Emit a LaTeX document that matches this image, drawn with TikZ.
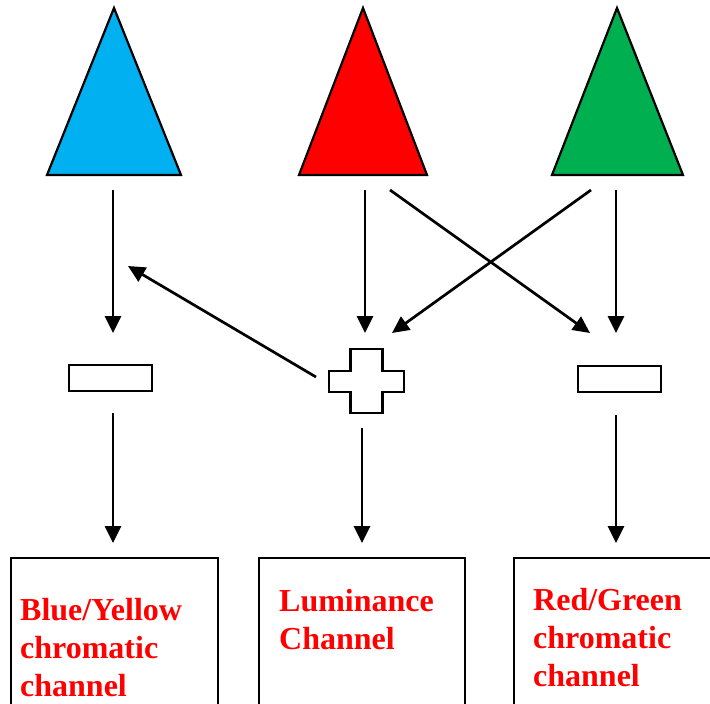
\documentclass[tikz,border=0pt]{standalone}
\usepackage{fontspec}
\setmainfont{Liberation Serif}
\usetikzlibrary{arrows.meta}
\definecolor{coneblue}{HTML}{00B0F0}
\definecolor{conered}{HTML}{FF0000}
\definecolor{conegreen}{HTML}{00B050}
\tikzset{
  cone/.style={draw=black, line width=2.2pt, line join=miter},
  flow/.style={-{Triangle[length=17pt,width=16pt]}, line width=2.7pt},
  opbox/.style={draw, line width=2.2pt, minimum width=83pt, minimum height=26pt, inner sep=0pt},
  chanbox/.style={draw, line width=2.2pt, anchor=north west, minimum height=200pt, inner sep=0pt},
  chantext/.style={anchor=north west, inner sep=0pt, align=left, text=red,
    font=\bfseries\fontsize{32}{38}\selectfont}
}

\begin{document}
\begin{tikzpicture}[x=1pt,y=-1pt]
\useasboundingbox (0,0) rectangle (710,704);
\clip (0,0) rectangle (710,704);

% cones
\filldraw[cone, fill=coneblue] (47,175) -- (114,8) -- (181,175) -- cycle;
\filldraw[cone, fill=conered] (299,175) -- (363,8) -- (427,175) -- cycle;
\filldraw[cone, fill=conegreen] (552,175) -- (617,8) -- (683,175) -- cycle;

% opponent stages
\node[opbox] (minusby) at (110.5,378) {};
\node[opbox] (minusrg) at (619.5,379) {};
\node[minimum width=75pt, minimum height=64pt, inner sep=0pt] (sum) at (366.5,381) {};
\begin{scope}[shift={(sum.center)}]
\draw[line width=2.2pt] (-16,-32) -- (16,-32) -- (16,-10) -- (37.5,-10) -- (37.5,11)
  -- (16,11) -- (16,32) -- (-16,32) -- (-16,11) -- (-37.5,11) -- (-37.5,-10)
  -- (-16,-10) -- cycle;
\end{scope}

% channels
\node[chanbox, minimum width=207pt] (bybox) at (10,557) {};
\node[chanbox, minimum width=206pt] (lumbox) at (258,557) {};
\node[chanbox, minimum width=220pt] (rgbox) at (513,557) {};
\node[chantext] (bytext) at (20,598) {Blue/Yellow\\chromatic\\channel};
\node[chantext] (lumtext) at (279,589) {Luminance\\Channel};
\node[chantext] (rgtext) at (533,588) {Red/Green\\chromatic\\channel};

% cone outputs
\coordinate (blueout) at (113,190);
\coordinate (redout) at (365,190);
\coordinate (redcross) at (390,190);
\coordinate (greencross) at (591,190);
\coordinate (greenout) at (616,190);
\coordinate (byin) at (113,333);
\coordinate (sumin) at (365,333);
\coordinate (sumcross) at (392,333);
\coordinate (rgcross) at (590,333);
\coordinate (rgin) at (616,333);
\coordinate (sumout) at (316,377);
\coordinate (yellowin) at (128,266);

\draw[flow] (blueout) -- (byin);
\draw[flow] (redout) -- (sumin);
\draw[flow] (redcross) -- (rgcross);
\draw[flow] (greencross) -- (sumcross);
\draw[flow] (greenout) -- (rgin);
\draw[flow] (sumout) -- (yellowin);

% to channels
\draw[flow, shorten <=21pt, shorten >=14pt] (minusby.south -| byin) -- (byin |- bybox.north);
\draw[flow, shorten <=15pt, shorten >=14pt] (sum.south -| 362,0) -- (362,0 |- lumbox.north);
\draw[flow, shorten <=22pt, shorten >=14pt] (minusrg.south -| rgin) -- (rgin |- rgbox.north);
\end{tikzpicture}
\end{document}
